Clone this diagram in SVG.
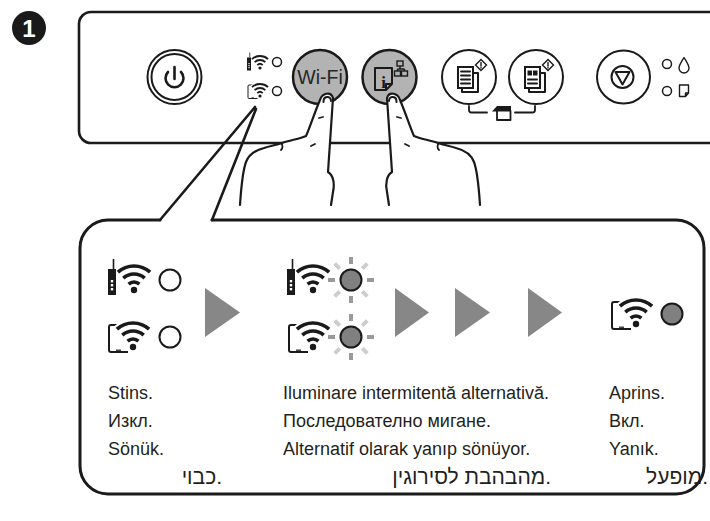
<svg xmlns="http://www.w3.org/2000/svg" xmlns:xlink="http://www.w3.org/1999/xlink" width="710" height="521" viewBox="0 0 710 521">
<style>
  .ln{fill:none;stroke:#1a1a1a;stroke-linecap:round;stroke-linejoin:round}
  .btn{fill:#fff;stroke:#1a1a1a;stroke-width:2}
  .btn-on{fill:#b3b3b3;stroke:#1a1a1a;stroke-width:2.5}
  .led{fill:#fff;stroke:#1a1a1a}
  .led-on{fill:#808080;stroke:#1a1a1a;stroke-width:2}
  .tri{fill:#878787}
  .lbl{font-family:"Liberation Sans",Arial,sans-serif;font-size:18px;fill:#231f20}
  .heb{font-family:"Liberation Sans","DejaVu Sans",sans-serif;font-size:21px;fill:#231f20}
  .hand{fill:#fff;stroke:#1a1a1a;stroke-width:2.2;stroke-linejoin:round;stroke-linecap:round}
  .ray-a{stroke:#9a9a9a;stroke-width:4}
  .ray-b{stroke:#cdcdcd;stroke-width:4}
</style>
<defs>
  <!-- wifi arcs + dot, origin at the dot -->
  <g id="arcs">
    <path d="M-16.1 -17.8A24 24 0 0 1 16.1 -17.8M-10.7 -11.9A16 16 0 0 1 10.7 -11.9M-5.4 -5.9A8 8 0 0 1 5.4 -5.9" fill="none" stroke="#1a1a1a" stroke-width="3.6"/>
    <circle r="3.2" fill="#1a1a1a"/>
  </g>
  <g id="tower">
    <rect x="-26" y="-21" width="8" height="26" fill="#1a1a1a"/>
    <line x1="-20.5" y1="-31" x2="-20.5" y2="-21" stroke="#1a1a1a" stroke-width="1.6"/>
    <rect x="-23.2" y="-10" width="2.4" height="2.4" fill="#fff"/>
    <rect x="-23.2" y="-6" width="2.4" height="2.4" fill="#fff"/>
    <rect x="-23.2" y="-2" width="2.4" height="2.4" fill="#fff"/>
    <use xlink:href="#arcs"/>
  </g>
  <g id="tablet">
    <path d="M-6 -22H-22Q-24 -22 -24 -20V3Q-24 5 -22 5H-5" fill="none" stroke="#1a1a1a" stroke-width="2"/>
    <line x1="-17" y1="3.2" x2="-12" y2="3.2" stroke="#1a1a1a" stroke-width="1.2"/>
    <path d="M-16.1 -17.8A24 24 0 0 1 16.1 -17.8M-10.7 -11.9A16 16 0 0 1 10.7 -11.9M-5.4 -5.9A8 8 0 0 1 5.4 -5.9" fill="none" stroke="#fff" stroke-width="8"/>
    <circle r="6" fill="#fff"/>
    <use xlink:href="#arcs"/>
  </g>
  <!-- blinking rays around an LED -->
  <g id="rays">
    <path class="ray-a" d="M0 -16V-23M0 16V23M-16 0H-23M16 0H23"/>
    <path class="ray-b" d="M11.3 -11.3L16.3 -16.3M-11.3 -11.3L-16.3 -16.3M11.3 11.3L16.3 16.3M-11.3 11.3L-16.3 16.3"/>
  </g>
  <!-- pointing hand, finger on the right of the palm -->
  <g id="hand">
    <path class="hand" d="M240 205C241 190 243 170 246 162C249 154 256 150 264 148C270 146 276 145 282 143C290 140 300 139 306 136C309 130 314 114 320 100C322 93 331 91 333 98C332 115 330 140 328 172C333 175 335 183 333 192L331 205"/>
    <path class="ln" stroke-width="2" d="M323.5 102C323 96 331 95 331 101"/>
    <path class="ln" stroke-width="1.8" d="M319 118L323 117M311 146L315 144M281 143C283 145 283 148 281 150"/>
  </g>
</defs>

<!-- step number -->
<g id="step">
  <circle cx="29" cy="28" r="17" fill="#1a1a1a"/>
  <text x="29" y="36.5" text-anchor="middle" font-family="Liberation Sans,Arial,sans-serif" font-weight="bold" font-size="24" fill="#fff">1</text>
</g>

<!-- control panel -->
<g id="panel">
  <path class="ln" stroke-width="2.6" d="M720 12H91A12 12 0 0 0 79 24V131A12 12 0 0 0 91 143H720"/>
</g>

<g id="power">
  <circle cx="174.5" cy="77" r="27" class="btn"/>
  <circle cx="174.5" cy="77" r="23" class="btn"/>
  <path class="ln" stroke-width="2.6" d="M168 72A9 9 0 1 0 181 72M174.5 67V79"/>
</g>

<g id="wifi-leds">
  <use xlink:href="#tower" transform="translate(260 68) scale(0.5)"/>
  <circle cx="277" cy="62" r="4.5" class="led" stroke-width="1.5"/>
  <use xlink:href="#tablet" transform="translate(260 96) scale(0.5)"/>
  <circle cx="277" cy="91" r="4.5" class="led" stroke-width="1.5"/>
</g>

<g id="wifi-button">
  <circle cx="320" cy="77" r="27" class="btn-on"/>
  <text x="320" y="84" text-anchor="middle" font-family="Liberation Sans,Arial,sans-serif" font-size="19.5" fill="#262626">Wi-Fi</text>
</g>

<g id="info-button">
  <circle cx="389.5" cy="77" r="27" class="btn-on"/>
  <path class="ln" stroke-width="2" d="M375 68H392V84L386 90H375Z M386 90V84H392"/>
  <text x="383.5" y="88" text-anchor="middle" font-family="Liberation Serif,serif" font-weight="bold" font-size="17" fill="#1a1a1a">i</text>
  <g fill="#b3b3b3" stroke="#1a1a1a" stroke-width="1.4">
    <rect x="397" y="61" width="6" height="5"/>
    <path fill="none" d="M400 66V69M397.5 69H404.5M397.5 69V71M404.5 69V71"/>
    <rect x="394.5" y="71" width="6" height="5"/>
    <rect x="401.5" y="71" width="6" height="5"/>
  </g>
</g>

<g id="copy-bw">
  <circle cx="469" cy="77" r="27" class="btn"/>
  <path class="ln" stroke-width="2" d="M473 73H478V92H462V88"/>
  <rect x="458" y="67" width="15" height="21" fill="#fff" stroke="#1a1a1a" stroke-width="2"/>
  <path class="ln" stroke-width="2" d="M461 71.5H470M461 75.5H470M461 79.5H470M461 83.5H470"/>
  <path d="M481 59.5L486.5 65L481 70.5L475.5 65Z" fill="#fff" stroke="#1a1a1a" stroke-width="1.4"/>
  <path class="ln" stroke-width="1.4" d="M481 62.5V66M481 67.5V68"/>
</g>

<g id="copy-color">
  <circle cx="536" cy="77" r="27" class="btn"/>
  <path class="ln" stroke-width="2" d="M540 73H545V92H529V88"/>
  <rect x="525" y="67" width="15" height="21" fill="#fff" stroke="#1a1a1a" stroke-width="2"/>
  <rect x="527.5" y="70.5" width="4.5" height="5" fill="#1a1a1a"/>
  <rect x="533" y="70.5" width="4.5" height="5" fill="#1a1a1a"/>
  <path class="ln" stroke-width="2" d="M528 79.5H537M528 83.5H537"/>
  <path d="M548 59.5L553.5 65L548 70.5L542.5 65Z" fill="#fff" stroke="#1a1a1a" stroke-width="1.4"/>
  <path class="ln" stroke-width="1.4" d="M548 62.5V66M548 67.5V68"/>
</g>

<g id="copy-bracket">
  <path class="ln" stroke-width="1.8" d="M469 106V110Q469 112.5 471.5 112.5H487M515 112.5H532.5Q535 112.5 535 110V106"/>
  <path d="M492 111.5L497 106H511V111.5Z" fill="#1a1a1a"/>
  <path class="ln" stroke-width="1.8" d="M497 111V120H510.5V111"/>
</g>

<g id="stop">
  <circle cx="623.5" cy="77" r="26.5" class="btn"/>
  <circle cx="622.5" cy="77" r="11" class="ln" stroke-width="2"/>
  <path class="ln" stroke-width="2" d="M615.5 72H629.5L622.5 84.5Z"/>
</g>

<g id="status-leds">
  <circle cx="667" cy="64" r="4.5" class="led" stroke-width="1.5"/>
  <path class="ln" stroke-width="1.4" d="M684 57.5C682 61 679 65 679 68A5 5 0 0 0 689 68C689 65 686 61 684 57.5Z"/>
  <circle cx="667" cy="91" r="4.5" class="led" stroke-width="1.5"/>
  <path class="ln" stroke-width="1.4" d="M679.5 85H688.5V93L685.5 96.5H679.5Z M685.5 96.5V93H688.5"/>
</g>

<!-- fingers pressing the two buttons -->
<g id="hands">
  <use xlink:href="#hand"/>
  <use xlink:href="#hand" transform="matrix(-1 0 0 1 720 0)"/>
</g>

<!-- callout from the Wi-Fi LEDs -->
<g id="connectors">
  <path class="ln" stroke-width="2.6" d="M255 107L160 220M256 109L212 220"/>
</g>

<g id="callout">
  <path class="ln" stroke-width="3" d="M212 220H676A28 28 0 0 1 704 248V466A28 28 0 0 1 676 494H108A28 28 0 0 1 80 466V248A28 28 0 0 1 108 220H160"/>
</g>

<g id="state-off">
  <use xlink:href="#tower" transform="translate(134 290)"/>
  <circle cx="170" cy="280" r="10.5" class="led" stroke-width="2"/>
  <use xlink:href="#tablet" transform="translate(133 347)"/>
  <circle cx="170" cy="337" r="10.5" class="led" stroke-width="2"/>
  <text class="lbl" x="108" y="399">Stins.</text>
  <text class="lbl" x="108" y="427">Изкл.</text>
  <text class="lbl" x="108" y="455">Sönük.</text>
  <text class="heb" x="222" y="484" text-anchor="end">כבוי.</text>
</g>

<g id="arrows">
  <path class="tri" d="M205 288L240 312.5L205 337Z"/>
  <path class="tri" d="M395 288L429 312.5L395 337Z"/>
  <path class="tri" d="M455 288L490 312.5L455 337Z"/>
  <path class="tri" d="M528 288L562 312.5L528 337Z"/>
</g>

<g id="state-blink">
  <use xlink:href="#tower" transform="translate(313 290)"/>
  <use xlink:href="#rays" transform="translate(351 280)"/>
  <circle cx="351" cy="280" r="10.5" class="led-on"/>
  <use xlink:href="#tablet" transform="translate(313 347)"/>
  <use xlink:href="#rays" transform="translate(351 337)"/>
  <circle cx="351" cy="337" r="10.5" class="led-on"/>
  <text class="lbl" x="283" y="399">Iluminare intermitentă alternativă.</text>
  <text class="lbl" x="283" y="427">Последователно мигане.</text>
  <text class="lbl" x="283" y="455">Alternatif olarak yanıp sönüyor.</text>
  <text class="heb" x="551" y="484" text-anchor="end">מהבהבת לסירוגין.</text>
</g>

<g id="state-on">
  <use xlink:href="#tablet" transform="translate(636 324)"/>
  <circle cx="672" cy="314" r="10.5" class="led-on"/>
  <text class="lbl" x="609" y="399">Aprins.</text>
  <text class="lbl" x="609" y="427">Вкл.</text>
  <text class="lbl" x="609" y="455">Yanık.</text>
  <text class="heb" x="708" y="484" text-anchor="end">מופעל.</text>
</g>
</svg>
